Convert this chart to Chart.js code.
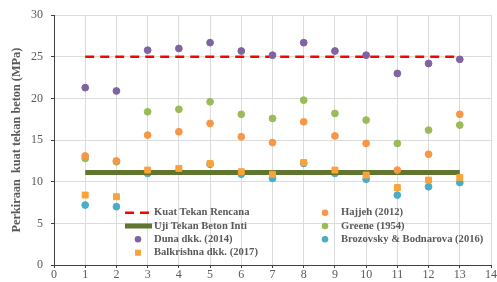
<!DOCTYPE html>
<html>
<head>
<meta charset="utf-8">
<script src="https://cdn.jsdelivr.net/npm/chart.js@4/dist/chart.umd.min.js"></script>
<style>
    html, body { margin: 0; padding: 0; background: #fff; }
    #wrap { width: 497px; height: 282px; }
</style>
</head>
<body>
<div id="wrap"><canvas id="myChart"></canvas></div>
<script>
// benda uji 1..13
const sampleNo = [1, 2, 3, 4, 5, 6, 7, 8, 9, 10, 11, 12, 13];

const kuatRencana = 25;   // MPa
const ujiBetonInti = 11.1; // MPa

const duna = [21.3, 20.9, 25.8, 26.0, 26.7, 25.7, 25.2, 26.7, 25.7, 25.2, 23.0, 24.2, 24.7];
const balkrishna = [8.4, 8.2, 11.4, 11.6, 12.2, 11.2, 10.9, 12.3, 11.4, 10.8, 9.3, 10.2, 10.5];
const hajjeh = [13.1, 12.5, 15.6, 16.0, 17.0, 15.4, 14.7, 17.2, 15.5, 14.6, 11.4, 13.3, 18.1];
const greene = [12.8, 12.4, 18.4, 18.7, 19.6, 18.1, 17.6, 19.8, 18.2, 17.4, 14.6, 16.2, 16.8];
const brozovsky = [7.2, 7.0, 11.0, 11.3, 12.1, 10.9, 10.4, 12.2, 11.0, 10.3, 8.4, 9.4, 9.9];

const xTicks = [0, 1, 2, 3, 4, 5, 6, 7, 8, 9, 10, 11, 12, 13, 14];
const yTicks = [0, 5, 10, 15, 20, 25, 30];

function toPoints(values) {
    return values.map((v, i) => ({x: sampleNo[i], y: v}));
}

function flatLine(v) {
    return [{x: sampleNo[0], y: v}, {x: sampleNo[sampleNo.length - 1], y: v}];
}

const grey = '#595959';
const serif = '"Liberation Serif", "Times New Roman", serif';

// legend drawn inside the plot, two columns like the excel original
const legendInside = {
    id: 'legendInside',
    afterDatasetsDraw(chart) {
        const ctx = chart.ctx;
        const cols = [{sym: 138, txt: 154}, {sym: 325, txt: 341}];
        const rows = [212.7, 226, 239.3, 252.7];
        ctx.save();
        ctx.font = 'bold 10.6px ' + serif;
        ctx.textBaseline = 'middle';
        ctx.fillStyle = grey;
        chart.data.datasets.forEach((ds, i) => {
            const c = cols[i < 4 ? 0 : 1];
            const y = rows[i < 4 ? i : i - 4];
            if (ds.type === 'line') {
                ctx.beginPath();
                ctx.strokeStyle = ds.borderColor;
                ctx.lineWidth = ds.borderWidth;
                ctx.setLineDash(ds.borderDash || []);
                ctx.moveTo(c.sym - 13, y);
                ctx.lineTo(c.sym + 14, y);
                ctx.stroke();
                ctx.setLineDash([]);
            } else {
                ctx.fillStyle = ds.backgroundColor;
                if (ds.pointStyle === 'rect') {
                    ctx.fillRect(c.sym - 3, y - 3, 6, 6);
                } else {
                    ctx.beginPath();
                    ctx.arc(c.sym, y, 3.3, 0, Math.PI * 2);
                    ctx.fill();
                }
            }
            ctx.fillStyle = grey;
            ctx.fillText(ds.label, c.txt, y);
        });
        ctx.restore();
    }
};

const data = {
    datasets: [{
        type: 'line',
        label: 'Kuat Tekan Rencana',
        data: flatLine(kuatRencana),
        borderColor: '#ff0000',
        borderWidth: 2.5,
        borderDash: [9, 6],
        pointRadius: 0,
        order: 1
    }, {
        type: 'line',
        label: 'Uji Tekan Beton Inti',
        data: flatLine(ujiBetonInti),
        borderColor: '#5f7530',
        borderWidth: 5,
        pointRadius: 0,
        order: 3
    }, {
        label: 'Duna dkk. (2014)',
        data: toPoints(duna),
        backgroundColor: '#8064a2',
        borderColor: '#8064a2',
        pointRadius: 3.4,
        order: 0
    }, {
        label: 'Balkrishna dkk. (2017)',
        data: toPoints(balkrishna),
        backgroundColor: '#f9a33a',
        borderColor: '#f9a33a',
        pointStyle: 'rect',
        pointRadius: 4.2,
        order: 2
    }, {
        label: 'Hajjeh (2012)',
        data: toPoints(hajjeh),
        backgroundColor: '#f79646',
        borderColor: '#f79646',
        pointRadius: 3.4,
        order: 0
    }, {
        label: 'Greene (1954)',
        data: toPoints(greene),
        backgroundColor: '#9bbb59',
        borderColor: '#9bbb59',
        pointRadius: 3.4,
        order: 1
    }, {
        label: 'Brozovsky & Bodnarova (2016)',
        data: toPoints(brozovsky),
        backgroundColor: '#4bacc6',
        borderColor: '#4bacc6',
        pointRadius: 3.4,
        order: 4
    }]
};

const ctx = document.getElementById('myChart').getContext('2d');
const chart = new Chart(ctx, {
    type: 'scatter',
    data: data,
    plugins: [legendInside],
    options: {
        responsive: true,
        maintainAspectRatio: false,
        animation: false,
        layout: {padding: {top: 15, right: 5, left: 0, bottom: 0}},
        plugins: {
            legend: {display: false},
            tooltip: {enabled: false}
        },
        scales: {
            x: {
                type: 'linear',
                min: xTicks[0],
                max: xTicks[xTicks.length - 1],
                afterBuildTicks: (s) => { s.ticks = xTicks.map(v => ({value: v})); },
                afterFit: (s) => { s.height = 17; },
                ticks: {
                    color: grey,
                    font: {family: serif, size: 12},
                    padding: 0,
                    maxRotation: 0
                },
                grid: {color: '#dcdcdc', tickColor: '#404040', tickLength: 3},
                border: {color: '#404040', width: 1}
            },
            y: {
                min: yTicks[0],
                max: yTicks[yTicks.length - 1],
                afterBuildTicks: (s) => { s.ticks = yTicks.map(v => ({value: v})); },
                afterFit: (s) => { s.width = 54; },
                ticks: {
                    color: grey,
                    font: {family: serif, size: 12},
                    padding: 8
                },
                title: {
                    display: true,
                    text: 'Perkiraan  kuat tekan beton (MPa)',
                    color: grey,
                    font: {family: serif, size: 12.3, weight: 'bold'},
                    padding: {top: 9, bottom: 0}
                },
                grid: {color: '#dcdcdc', tickColor: '#404040', tickLength: 3},
                border: {color: '#404040', width: 1}
            }
        }
    }
});
</script>
</body>
</html>
